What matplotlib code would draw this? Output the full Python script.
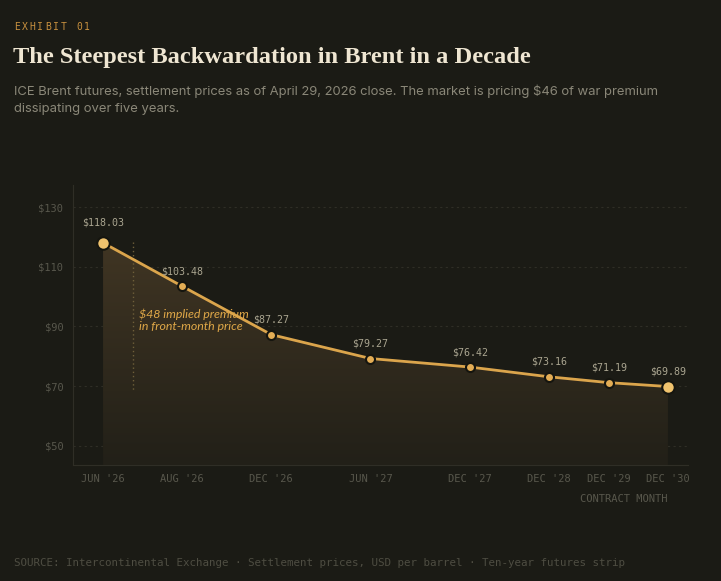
import numpy as np
import matplotlib
matplotlib.use("Agg")
import matplotlib.pyplot as plt
from matplotlib.patches import Polygon

# данные: фьючерсы ICE Brent
contracts = ["JUN '26", "AUG '26", "DEC '26", "JUN '27", "DEC '27", "DEC '28", "DEC '29", "DEC '30"]
prices = [118.03, 103.48, 87.27, 79.27, 76.42, 73.16, 71.19, 69.89]
# шаг между контрактами на оси x (как на исходном графике)
x_gaps = [79, 89, 99, 99, 79, 60, 59]
y_ticks = [50, 70, 90, 110, 130]

BG = "#1b1b15"
GOLD = "#dba54c"
DIM = "#58574c"
GRID = "#2f2e26"
MONO = "DejaVu Sans Mono"

W, H = 721, 581
fig = plt.figure(figsize=(W / 100, H / 100), dpi=100, facecolor=BG)

def px(x, y):
    return x / W, 1 - y / H

# заголовок
ex_x = 14
for ch in "EXHIBIT 01":
    fig.text(*px(ex_x, 27), ch, color="#c8913f", fontsize=7, family=MONO,
             va="center", ha="left")
    ex_x += 7.8
fig.text(*px(13, 58), "The Steepest Backwardation in Brent in a Decade",
         color="#efe6d2", fontsize=17.6, family="Liberation Serif",
         weight="bold", va="center", ha="left")
fig.text(*px(14, 100),
         "ICE Brent futures, settlement prices as of April 29, 2026 close. The market is pricing $46 of war premium\n"
         "dissipating over five years.",
         color="#8a8778", fontsize=9.4, family="Inter", va="center", ha="left",
         linespacing=1.5)

# оси
ax = fig.add_axes([73 / W, (H - 465) / H, (688 - 73) / W, (465 - 185) / H])
ax.set_facecolor(BG)
x = np.concatenate([[0], np.cumsum(x_gaps)])
y = np.array(prices)
ax.set_xlim(-30, x[-1] + 20)
ax.set_ylim(43.6, 137.4)

for v in y_ticks:
    ax.axhline(v, color=GRID, lw=0.8, ls=(0, (2, 3)), zorder=1)

# заливка с градиентом
grad = np.linspace(1, 0, 256).reshape(-1, 1)
top_c = np.array([0x40, 0x35, 0x23]) / 255
bot_c = np.array([0x22, 0x20, 0x18]) / 255
img = top_c * grad[..., None] + bot_c * (1 - grad[..., None])
im = ax.imshow(img, extent=[x[0], x[-1], 43.6, y.max()], aspect="auto",
               origin="upper", zorder=2)
verts = list(zip(x, y)) + [(x[-1], 43.6), (x[0], 43.6)]
clip = Polygon(verts, closed=True, transform=ax.transData, facecolor="none",
               edgecolor="none")
ax.add_patch(clip)
im.set_clip_path(clip)

ax.plot(x, y, color=GOLD, lw=2, zorder=4, solid_capstyle="round")
ax.plot(x[1:-1], y[1:-1], "o", ms=6.5, mfc="#e3ad55", mec="#15150f", mew=1.5, zorder=5)
ax.plot(x[[0, -1]], y[[0, -1]], "o", ms=9, mfc="#f0c36e", mec="#15150f", mew=1.5, zorder=5)

for i, (xi, yi) in enumerate(zip(x, y)):
    off = 14.4 if i == 0 else 10.8
    ax.annotate(f"${yi:.2f}", (xi, yi), xytext=(0, off), textcoords="offset points",
                ha="center", va="center", color="#aaa590", fontsize=7.2,
                family=MONO, zorder=6)

# аннотация премии
ax.plot([30, 30], [118.2, 68.4], color="#6e5f3a", lw=1, ls=(0, (1, 2)), zorder=3)
ax.text(36, 92.2, "$48 implied premium\nin front-month price", color="#e0a848",
        fontsize=8.9, style="italic", family="Lato", va="center", ha="left",
        linespacing=1.1, zorder=6)

ax.set_xticks(x)
ax.set_xticklabels(contracts)
ax.set_yticks(y_ticks)
ax.set_yticklabels([f"${v}" for v in y_ticks])
ax.tick_params(length=0, colors=DIM, labelsize=7.5)
ax.tick_params(axis="x", pad=6.8)
ax.tick_params(axis="y", pad=7)
for lab in ax.get_xticklabels() + ax.get_yticklabels():
    lab.set_family(MONO)
for s in ["top", "right"]:
    ax.spines[s].set_visible(False)
for s in ["left", "bottom"]:
    ax.spines[s].set_color(GRID)
    ax.spines[s].set_linewidth(0.8)

fig.text(*px(667, 499), "CONTRACT MONTH", color=DIM, fontsize=7.5, family=MONO,
         ha="right", va="center")
fig.text(*px(14, 563),
         "SOURCE: Intercontinental Exchange \u00b7 Settlement prices, USD per barrel \u00b7 Ten-year futures strip",
         color="#4e4d42", fontsize=7.8, family=MONO, ha="left", va="center")

fig.savefig("out.png", dpi=100, facecolor=BG)
